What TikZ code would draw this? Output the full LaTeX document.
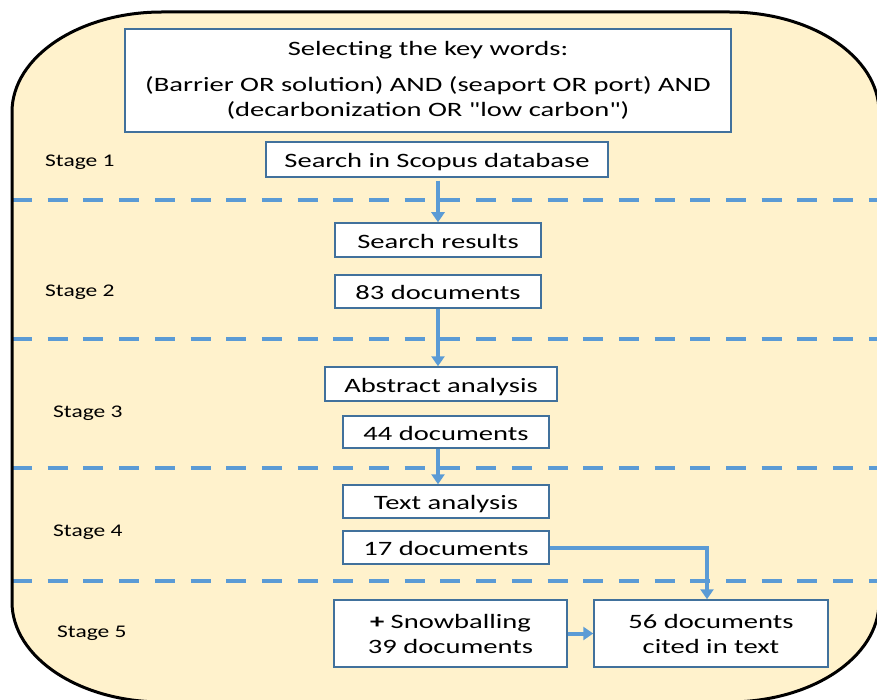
\documentclass[tikz,border=0pt]{standalone}
\usepackage{fontspec}
\usetikzlibrary{arrows.meta}
\newfontfamily\boxfont[FakeStretch=1.4]{Carlito}
\newfontfamily\stagefont[FakeStretch=1.32]{Carlito}
\definecolor{bgyellow}{HTML}{FFF2CC}
\definecolor{lineblue}{HTML}{5B9BD5}
\definecolor{boxblue}{HTML}{41719C}
\begin{document}
\begin{tikzpicture}[x=1pt,y=-1pt,
  box/.style={draw=boxblue, line width=1.5pt, fill=white, inner sep=0pt, align=center,
    font=\boxfont\fontsize{20.4}{25}\selectfont},
  oneline/.style={text height=16.5pt, text depth=0pt},
  stagelbl/.style={anchor=base west, inner sep=0pt, font=\stagefont\fontsize{17.8}{20}\selectfont},
  flow/.style={draw=lineblue, line width=4pt, -{Triangle[length=10pt,width=13pt]}},
  sep/.style={draw=lineblue, line width=4pt, dash pattern=on 20pt off 15.7pt}
]
\useasboundingbox (0,0) rectangle (877,700);
% outer panel
\fill[bgyellow] (162,12) -- (729,12) .. controls (811.8,12) and (879,56.8) .. (879,112)
  -- (879,602) .. controls (879,657.2) and (811.8,702) .. (729,702)
  -- (162,702) .. controls (79.2,702) and (12,657.2) .. (12,602)
  -- (12,112) .. controls (12,56.8) and (79.2,12) .. (162,12) -- cycle;
% stage separators
\foreach \yy in {200,339,468,581} {
  \draw[sep] (12,\yy) -- (879,\yy);
}
\draw[black, line width=3pt] (162,12) -- (729,12) .. controls (811.8,12) and (879,56.8) .. (879,112)
  -- (879,602) .. controls (879,657.2) and (811.8,702) .. (729,702)
  -- (162,702) .. controls (79.2,702) and (12,657.2) .. (12,602)
  -- (12,112) .. controls (12,56.8) and (79.2,12) .. (162,12) -- cycle;

% boxes
\node[box, minimum width=606, minimum height=103] (kw) at (428,80.5)
  {Selecting the key words:\\[11pt](Barrier OR solution) AND (seaport OR port) AND\\(decarbonization OR "low carbon")};
\node[box, oneline, minimum width=342, minimum height=35] (scopus) at (437,159.5) {Search in Scopus database};
\node[box, oneline, minimum width=206, minimum height=34] (results) at (438,240) {Search results};
\node[box, oneline, minimum width=206, minimum height=33] (d83) at (438,291.5) {83 documents};
\node[box, oneline, minimum width=232, minimum height=34] (abstract) at (441,384) {Abstract analysis};
\node[box, oneline, minimum width=206, minimum height=32] (d44) at (446,432) {44 documents};
\node[box, oneline, minimum width=206, minimum height=33] (textan) at (446,501.5) {Text analysis};
\node[box, oneline, minimum width=206, minimum height=33] (d17) at (446,547.5) {17 documents};
\node[box, minimum width=233, minimum height=67] (snow) at (450.5,633.5) {\textbf{+} Snowballing\\39 documents};
\node[box, minimum width=234, minimum height=67] (cited) at (711,633.5) {56 documents\\cited in text};

% stage labels
\node[stagelbl] (s1) at (45,167) {Stage 1};
\node[stagelbl] (s2) at (45,296.5) {Stage 2};
\node[stagelbl] (s3) at (53,417) {Stage 3};
\node[stagelbl] (s4) at (53,536) {Stage 4};
\node[stagelbl] (s5) at (57,637) {Stage 5};

% arrows
\draw[flow, shorten <=3pt] (scopus.south -| results.north) -- (results.north);
\draw[flow] (d83.south) -- (abstract.north -| d83.south);
\draw[flow] (d44.south -| d83.south) -- (textan.north -| d83.south);
\draw[flow] (d17.east) -| ([xshift=-4pt]cited.north);
\draw[flow] (snow.east) -- (cited.west);
\end{tikzpicture}
\end{document}
